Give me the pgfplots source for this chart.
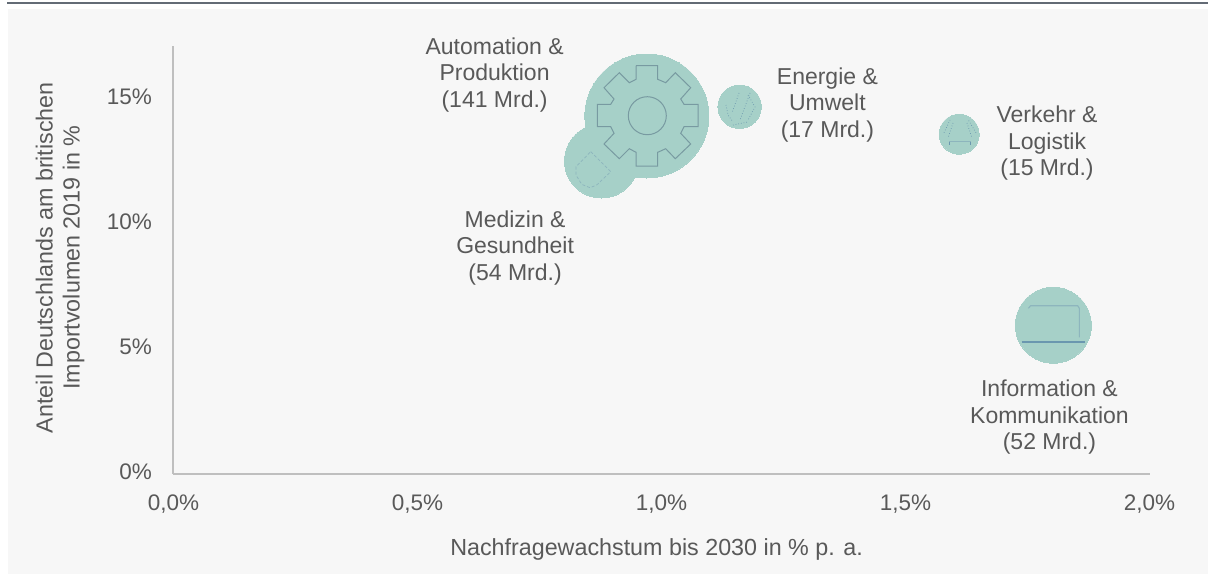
\documentclass[border=0pt]{standalone}
\usepackage{pgfplots}
\pgfplotsset{compat=1.18}
\usepackage{fontspec}
\setmainfont{Liberation Sans}
\definecolor{bub}{HTML}{A6D0C8}
\definecolor{txt}{HTML}{595959}
\definecolor{axl}{HTML}{BFBFBF}
\definecolor{ico}{HTML}{8DB5BD}
\definecolor{icd}{HTML}{6A97AF}
\definecolor{bgc}{HTML}{F7F7F7}
\definecolor{topl}{HTML}{636B75}
\newcommand{\lab}[3]{\node[align=center,font=\fontsize{23}{26.5}\selectfont,text=txt] at (axis cs:#1,#2) {#3};}
\begin{document}
\begin{tikzpicture}[x=1pt,y=1pt]
\path[use as bounding box] (-173.5,-100.5) rectangle (1034.5,473.5);
\fill[bgc] (-165.5,-100.5) rectangle (1034.5,464.5);
\fill[topl] (-166.5,469.2) rectangle (1034.5,471.8);
\begin{axis}[at={(0,0)},anchor=south west,scale only axis,width=976pt,height=427.5pt,
 xmin=0,xmax=2,ymin=0,ymax=17.1,clip=false,
 axis lines=left,axis line style={axl,line width=2pt,-},
 xtick={0,0.5,1,1.5,2},xticklabels={{0,0\%},{0,5\%},{1,0\%},{1,5\%},{2,0\%}},
 ytick={0,5,10,15},yticklabels={0\%,5\%,10\%,15\%},
 major tick length=0pt,
 tick label style={font=\fontsize{22.5}{26}\selectfont,text=txt},
 xticklabel style={anchor=center,yshift=-30.5pt},
 yticklabel style={anchor=east,xshift=-18pt,yshift=1.5pt},
 every axis x label/.style={at={(rel axis cs:0.495,0)},yshift=-76pt,anchor=center},
 every axis y label/.style={at={(rel axis cs:0,0.505)},xshift=-113.5pt,anchor=center,rotate=90},
 label style={font=\fontsize{23.3}{27}\selectfont,text=txt,align=center},
 xlabel={Nachfragewachstum bis 2030 in \% p. a.},
 ylabel={Anteil Deutschlands am britischen\\Importvolumen 2019 in \%}]
\addplot[only marks,mark=*,mark size=37pt,mark options={fill=bub,draw=bub,line width=0pt}] coordinates {(0.877,12.5)};
\addplot[only marks,mark=*,mark size=62pt,mark options={fill=bub,draw=bub,line width=0pt}] coordinates {(0.97,14.3)};
\addplot[only marks,mark=*,mark size=21.7pt,mark options={fill=bub,draw=bub,line width=0pt}] coordinates {(1.16,14.67)};
\addplot[only marks,mark=*,mark size=20pt,mark options={fill=bub,draw=bub,line width=0pt}] coordinates {(1.61,13.57)};
\addplot[only marks,mark=*,mark size=38pt,mark options={fill=bub,draw=bub,line width=0pt}] coordinates {(1.803,5.93)};
\lab{0.658}{15.95}{Automation \&\\Produktion\\(141 Mrd.)}
\lab{0.70}{9.03}{Medizin \&\\Gesundheit\\(54 Mrd.)}
\lab{1.34}{14.75}{Energie \&\\Umwelt\\(17 Mrd.)}
\lab{1.79}{13.2}{Verkehr \&\\Logistik\\(15 Mrd.)}
\lab{1.795}{2.25}{Information \&\\Kommunikation\\(52 Mrd.)}
\end{axis}
\begin{axis}[at={(-173.5,100.5)},anchor=south west,scale only axis,width=1208pt,height=574pt,
 xmin=0,xmax=1208,ymin=0,ymax=574,y dir=reverse,hide axis,clip=false]
\addplot[ico!85!black,line width=1pt,mark=none] coordinates {(636,65.7)(657.7,65.7)(657.7,79.3)(665.7,82.7)(675.3,72.7)(690.7,87.7)(680.7,99)(684,104.3)(698,104.3)(698,126.7)(684,126.7)(680.7,133.3)(690.7,144)(675.3,158.7)(665.7,148.7)(657.7,152.3)(657.7,166)(636,166)(636,152.3)(629.3,148.7)(619.3,158.7)(604,144)(614,133.3)(610.7,126.7)(597.3,126.7)(597.3,104.3)(610.7,104.3)(614,99)(604,87.7)(619.3,72.7)(629.3,82.7)(636,79.3)(636,65.7)};
\addplot[only marks,mark=o,mark size=19pt,mark options={ico!85!black,line width=1pt}] coordinates {(647.3,115.7)};
\addplot[ico,line width=0.7pt,densely dashed,mark=none] coordinates {(590.7,151.7)(610.7,171.7)(596.7,185)(590,187.7)(581.7,184.3)(576,175)(576,166.7)(590.7,151.7)};
\addplot[icd,line width=0.7pt,dotted,mark=none] coordinates {(739,93)(732,113)};
\addplot[icd,line width=0.7pt,dotted,mark=none] coordinates {(750,93)(740,120)};
\addplot[icd,line width=0.7pt,dotted,mark=none] coordinates {(733,125)(748,122)};
\addplot[icd,line width=0.7pt,dotted,mark=none] coordinates {(726,105)(728,115)(733,122)};
\addplot[icd,line width=0.7pt,dotted,mark=none] coordinates {(748,95)(755,107)(748,120)};
\addplot[ico,line width=1.1pt,mark=none] coordinates {(949.3,141.7)(970.7,141.7)};
\addplot[icd,line width=0.9pt,mark=none] coordinates {(949.3,141.7)(949.3,144.5)};
\addplot[icd,line width=0.9pt,mark=none] coordinates {(970.7,141.7)(970.7,144.5)};
\addplot[icd,line width=0.7pt,dotted,mark=none] coordinates {(944,132.7)(950,120)};
\addplot[icd,line width=0.7pt,dotted,mark=none] coordinates {(976,132.7)(968.3,120)};
\addplot[icd,line width=0.7pt,dotted,mark=none] coordinates {(953,123)(948,138)};
\addplot[icd,line width=0.7pt,dotted,mark=none] coordinates {(967,123)(972,138)};
\addplot[ico,line width=1.1pt,mark=none] coordinates {(1028.3,308.3)(1030.7,305.7)(1077.7,305.7)(1079.3,308.3)(1079.3,337.3)};
\addplot[icd,line width=1.4pt,mark=none] coordinates {(1021.7,342)(1085,342)};
\end{axis}
\end{tikzpicture}
\end{document}
